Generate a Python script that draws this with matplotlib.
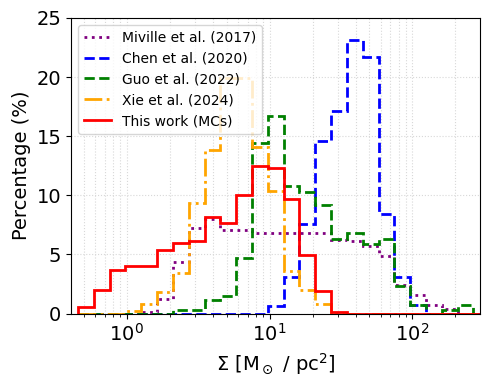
import numpy as np
import matplotlib
matplotlib.use('Agg')
import matplotlib.pyplot as plt

# общая сетка бинов (логарифмическая), границы в dex
bin_lo, bin_hi, n_bins = -0.342, 2.538, 26
edges = np.logspace(bin_lo, bin_hi, n_bins + 1)

# проценты по бинам для каждой выборки
miville = [0, 0, 0, 0, 0.15, 1.2, 4.35, 7.26, 7.97, 7.03, 7.03, 6.84, 6.85,
           6.85, 6.85, 6.85, 6.2, 6.1, 5.75, 4.85, 2.4, 1.55, 0.74, 0.35, 0, 0]
chen = [0, 0, 0, 0, 0, 0, 0, 0, 0, 0, 0, 0, 0.68, 3.1, 7.57, 14.6, 17.1,
        23.1, 21.7, 8.4, 3.1, 0.76, 0, 0, 0, 0]
guo = [0, 0, 0, 0, 0, 0, 0.32, 0.32, 1.17, 1.5, 4.72, 14.4, 16.7, 10.8,
       10.3, 9.2, 6.3, 6.8, 5.9, 6.3, 2.37, 0.76, 0, 0.3, 0.75, 0]
xie = [0, 0, 0, 0.2, 0.85, 1.8, 3.4, 9.35, 13.8, 19.9, 19.9, 14.1, 10.4,
       3.6, 2.0, 0.85, 0, 0, 0, 0, 0, 0, 0, 0, 0, 0]
this_work = [0.53, 2.0, 3.7, 3.98, 3.98, 5.4, 6.0, 6.15, 8.2, 7.7, 10.0,
             12.5, 12.3, 9.7, 4.95, 1.95, 0.15, 0, 0, 0, 0, 0, 0, 0, 0, 0]

labels = ['Miville et al. (2017)', 'Chen et al. (2020)', 'Guo et al. (2022)',
          'Xie et al. (2024)', 'This work (MCs)']

fig = plt.figure(figsize=(4.9, 3.9), dpi=100)
ax = fig.add_axes([0.145, 0.196, 0.835, 0.758])

ax.stairs(miville, edges, color='purple', ls=':', lw=2, label=labels[0])
ax.stairs(chen, edges, color='blue', ls='--', lw=2, label=labels[1])
ax.stairs(guo, edges, color='green', ls='--', lw=2, label=labels[2])
ax.stairs(xie, edges, color='orange', ls='-.', lw=2, label=labels[3])
ax.stairs(this_work, edges, color='red', ls='-', lw=2, label=labels[4])

ax.set_xscale('log')
ax.set_xlim(0.407, 298)
ax.set_ylim(0, 25)
ax.set_yticks([0, 5, 10, 15, 20, 25])

ax.grid(True, which='both', ls=':', color='#d8d8d8', lw=0.8)
ax.set_axisbelow(True)

ax.tick_params(axis='both', which='major', labelsize=14)
ax.set_xlabel(r'$\Sigma$ [M$_\odot$ / pc$^2$]', fontsize=14)
ax.set_ylabel('Percentage (%)', fontsize=14)

ax.legend(loc='upper left', fontsize=10)

fig.savefig('out.png', dpi=100)
